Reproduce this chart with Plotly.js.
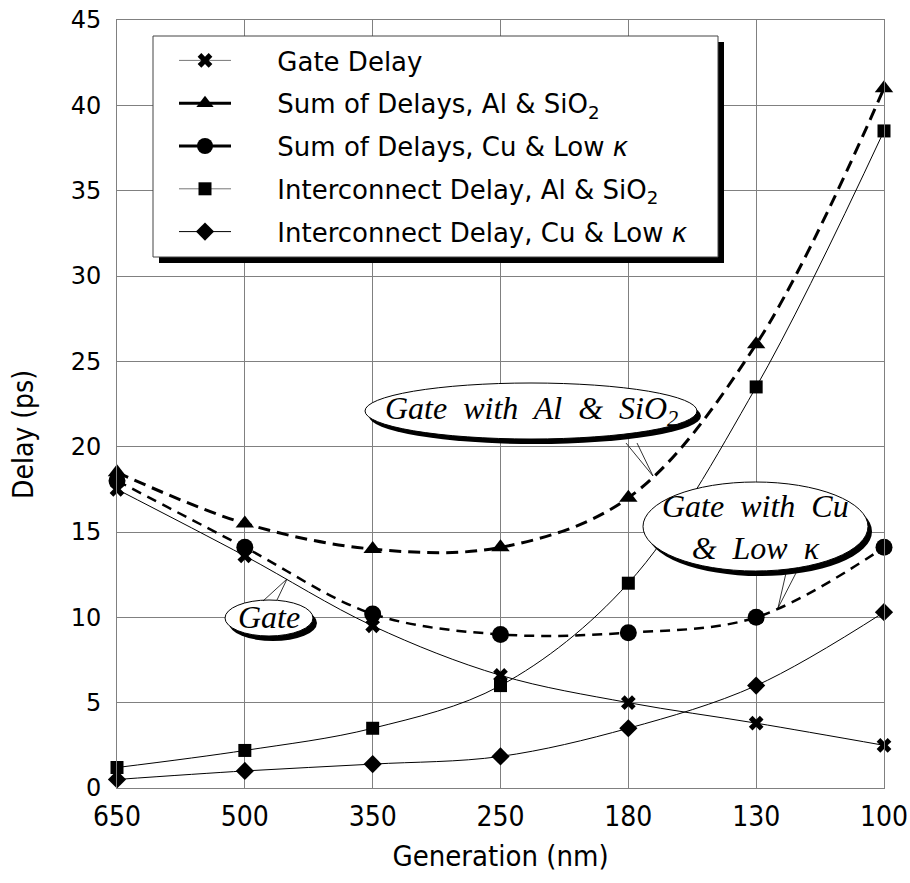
<!DOCTYPE html>
<html>
<head>
<meta charset="utf-8">
<script src="https://cdn.plot.ly/plotly-3.0.1.min.js"></script>
<style>html,body{margin:0;padding:0;background:#fff;}#chart{width:910px;height:883px;}</style>
</head>
<body>
<div id="chart"></div>
<script>
// ---- data ----
const generations = ["650", "500", "350", "250", "180", "130", "100"];
const gateDelay = [17.5, 13.6, 9.5, 6.6, 5.0, 3.8, 2.5];
const sumAlSiO2 = [18.5, 15.5, 14.0, 14.1, 17.0, 26.0, 41.0];
const sumCuLowK = [18.0, 14.1, 10.2, 9.0, 9.1, 10.0, 14.1];
const icAlSiO2 = [1.2, 2.2, 3.5, 6.0, 12.0, 23.5, 38.5];
const icCuLowK = [0.5, 1.0, 1.4, 1.85, 3.5, 6.0, 10.3];
const yTicks = [0, 5, 10, 15, 20, 25, 30, 35, 40, 45];

const names = [
  "Gate Delay",
  "Sum of Delays, Al &amp; SiO<sub>2</sub>",
  "Sum of Delays, Cu &amp; Low <i>κ</i>",
  "Interconnect Delay, Al &amp; SiO<sub>2</sub>",
  "Interconnect Delay, Cu &amp; Low <i>κ</i>"
];
const PAD = "\u00A0\u00A0\u00A0\u00A0\u00A0";

// ---- layout helpers (pixel -> paper) ----
const W = 910, H = 883;
const M = {l: 117, r: 26, t: 20, b: 95};
const PW = W - M.l - M.r, PH = H - M.t - M.b;
const fx = px => (px - M.l) / PW;
const fy = py => (H - M.b - py) / PH;

const SANS = "DejaVu Sans, Liberation Sans, sans-serif";
const NARROW = "Liberation Sans Narrow, DejaVu Sans Condensed, DejaVu Sans, sans-serif";
const SERIF = "Liberation Serif, DejaVu Serif, serif";

function series(y, name, sym, size, width, dash, grp) {
  return {
    x: generations, y: y, name: name, type: "scatter", mode: "lines+markers",
    line: {color: "#000", width: width, dash: dash, shape: "spline", smoothing: 1},
    marker: {symbol: sym, size: size, color: "#000", line: {width: 0}},
    cliponaxis: false, showlegend: false, legendgroup: grp
  };
}
function legendOnly(name, sym, size, width, color, grp) {
  return {
    x: [null], y: [null], name: PAD + name, type: "scatter", mode: "lines+markers",
    line: {color: color, width: width},
    marker: {symbol: sym, size: size, color: "#000"},
    showlegend: true, legendgroup: grp
  };
}

const data = [
  series(gateDelay, names[0], "x", 13, 1, "solid", "g1"),
  series(sumAlSiO2, names[1], "triangle-up", 16, 3, "12px,7px", "g2"),
  series(sumCuLowK, names[2], "circle", 17, 2.5, "10px,7px", "g3"),
  series(icAlSiO2, names[3], "square", 13, 1, "solid", "g4"),
  series(icCuLowK, names[4], "diamond", 14, 1, "solid", "g5"),
  legendOnly(names[0], "x", 13, 1, "#777", "g1"),
  legendOnly(names[1], "triangle-up", 15, 3, "#000", "g2"),
  legendOnly(names[2], "circle", 16, 3, "#000", "g3"),
  legendOnly(names[3], "square", 13, 1, "#777", "g4"),
  legendOnly(names[4], "diamond", 14, 1, "#000", "g5")
];

// balloon shapes
function balloon(x0, y0, x1, y1, wedge) {
  const sh = [];
  sh.push({type: "circle", xref: "paper", yref: "paper", layer: "above",
    x0: fx(x0 + 4), x1: fx(x1 + 4), y0: fy(y0 + 5), y1: fy(y1 + 5),
    fillcolor: "#000", line: {width: 0}});
  sh.push({type: "circle", xref: "paper", yref: "paper", layer: "above",
    x0: fx(x0), x1: fx(x1), y0: fy(y0), y1: fy(y1),
    fillcolor: "#fff", line: {width: 1, color: "#000"}});
  const [a, tip, b] = wedge;
  sh.push({type: "path", xref: "paper", yref: "paper", layer: "above",
    path: `M ${fx(a[0])} ${fy(a[1])} L ${fx(tip[0])} ${fy(tip[1])} L ${fx(b[0])} ${fy(b[1])}`,
    line: {width: 0.8, color: "#000"}});
  return sh;
}

const shapes = [
  // legend box + shadow
  {type: "rect", xref: "paper", yref: "paper", layer: "above",
   x0: fx(159), x1: fx(724), y0: fy(42), y1: fy(263), fillcolor: "#000", line: {width: 0}},
  {type: "rect", xref: "paper", yref: "paper", layer: "above",
   x0: fx(153), x1: fx(718), y0: fy(36), y1: fy(257), fillcolor: "#fff", line: {width: 1, color: "#444"}},
  ...balloon(365, 383, 697, 439, [[626, 443], [653, 476], [637, 443]]),
  ...balloon(643, 482, 868, 571, [[786, 573], [778, 608], [797, 571]]),
  ...balloon(225, 600, 313, 636, [[263, 601], [287, 579], [277, 600]])
];

const annFont = {family: SERIF, size: 32, color: "#000", style: "italic"};
const annotations = [
  {xref: "paper", yref: "paper", x: fx(531), y: fy(411), showarrow: false,
   text: "<i>Gate  with  Al  &amp;  SiO<sub>2</sub></i>", font: annFont, xanchor: "center", yanchor: "middle"},
  {xref: "paper", yref: "paper", x: fx(755), y: fy(527), showarrow: false,
   text: "<i>Gate  with  Cu</i><br><i>&amp;  Low  κ</i>", font: annFont, xanchor: "center", yanchor: "middle", align: "center"},
  {xref: "paper", yref: "paper", x: fx(269), y: fy(617), showarrow: false,
   text: "<i>Gate</i>", font: annFont, xanchor: "center", yanchor: "middle"},
  // y-axis title
  {xref: "paper", yref: "paper", x: fx(24), y: fy(435), showarrow: false, textangle: -90,
   text: "Delay (ps)", font: {family: NARROW, size: 28, color: "#000"}, xanchor: "center", yanchor: "middle"}
];

const layout = {
  width: W, height: H,
  margin: M,
  paper_bgcolor: "#fff", plot_bgcolor: "#fff",
  showlegend: true,
  legend: {
    x: fx(174), y: fy(37), xanchor: "left", yanchor: "top",
    bgcolor: "rgba(0,0,0,0)", borderwidth: 0,
    font: {family: SANS, size: 26, color: "#000"},
    tracegroupgap: 6, itemwidth: 52, traceorder: "grouped"
  },
  xaxis: {
    type: "category", categoryorder: "array", categoryarray: generations,
    range: [0, 6], showgrid: true, gridcolor: "#808080", gridwidth: 1,
    showline: true, linecolor: "#808080", linewidth: 1, mirror: true,
    ticks: "", tickfont: {family: NARROW, size: 28, color: "#000"},
    ticklabelstandoff: 3,
    title: {text: "Generation (nm)", font: {family: NARROW, size: 29, color: "#000"}, standoff: 14},
    zeroline: false, fixedrange: true
  },
  yaxis: {
    range: [0, 45], tickvals: yTicks, ticktext: yTicks.map(String),
    showgrid: true, gridcolor: "#808080", gridwidth: 1,
    showline: true, linecolor: "#808080", linewidth: 1, mirror: true,
    ticks: "", tickfont: {family: SANS, size: 24, color: "#000"},
    ticklabelstandoff: 10,
    zeroline: false, fixedrange: true
  },
  shapes: shapes,
  annotations: annotations
};

Plotly.newPlot("chart", data, layout, {displayModeBar: false, staticPlot: true});
</script>
</body>
</html>
